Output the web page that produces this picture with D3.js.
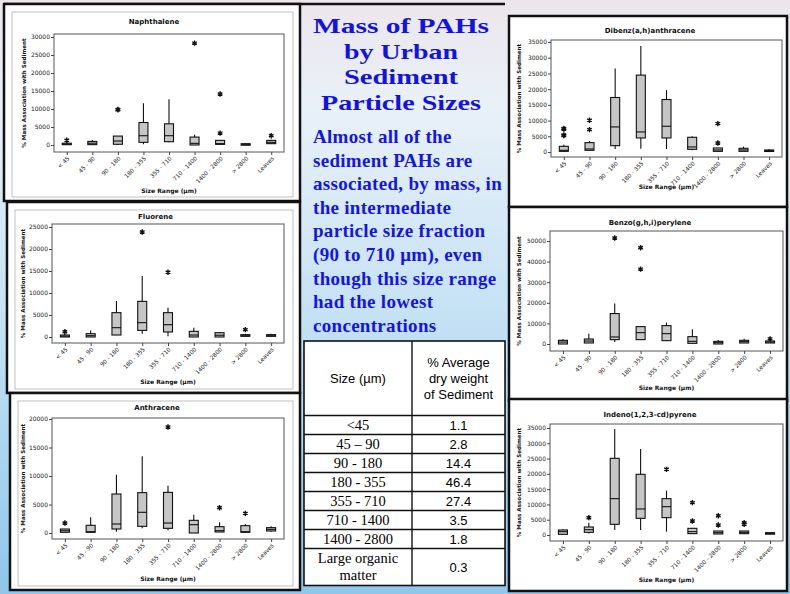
<!DOCTYPE html>
<html>
<head>
<meta charset="utf-8">
<script src="https://cdn.jsdelivr.net/npm/d3@7"></script>
<style>
  body { margin: 0; }
  svg { display: block; }
</style>
</head>
<body>
<div id="chart"></div>
<script>
// size classes on the x axis of every panel
const categories = ["< 45", "45 - 90", "90 - 180", "180 - 355", "355 - 710", "710 - 1400", "1400 - 2800", "> 2800", "Leaves"];

// boxes are [min, q1, median, q3, max], outliers are [category index, value]
const naphthaleneBoxes = [[0, 100, 250, 500, 800], [0, 100, 500, 1000, 1400], [0, 200, 1100, 2480, 2480], [200, 740, 2580, 6250, 11600], [740, 920, 2580, 5890, 12700], [0, 0, 460, 2200, 2850], [150, 180, 370, 1290, 1400], [0, 0, 200, 350, 500], [370, 370, 740, 1290, 1470]];
const naphthaleneOutliers = [[0, 1300], [2, 9750], [2, 9900], [5, 28300], [6, 14170], [6, 3300], [8, 2580]];
const naphthaleneTicks = [0, 5000, 10000, 15000, 20000, 25000, 30000];

const fluoreneBoxes = [[0, 0, 200, 450, 750], [0, 0, 300, 760, 1500], [450, 450, 2120, 5530, 8180], [760, 1500, 3260, 8100, 13860], [150, 1140, 2800, 5530, 6670], [0, 0, 450, 1290, 2120], [0, 0, 400, 980, 1140], [150, 150, 400, 530, 760], [0, 150, 400, 530, 760]];
const fluoreneOutliers = [[0, 1200], [3, 23860], [4, 14700], [7, 1670]];
const fluoreneTicks = [0, 5000, 10000, 15000, 20000, 25000];

const anthraceneBoxes = [[120, 120, 400, 700, 700], [120, 120, 230, 1350, 2750], [230, 700, 1580, 6840, 10230], [820, 1170, 3630, 7080, 13450], [470, 820, 1750, 7130, 8300], [0, 0, 1460, 2220, 3220], [175, 175, 410, 1110, 1870], [120, 120, 230, 1290, 1580], [230, 350, 640, 940, 1170]];
const anthraceneOutliers = [[0, 1750], [4, 18600], [6, 4440], [7, 3450]];
const anthraceneTicks = [0, 5000, 10000, 15000, 20000];

const dibenzBoxes = [[210, 210, 530, 1810, 2340], [530, 530, 960, 2980, 3510], [960, 2020, 7980, 17340, 26600], [1060, 4470, 6380, 24470, 33720], [960, 4470, 8190, 16700, 19680], [530, 850, 1600, 4680, 5000], [210, 210, 640, 1280, 1280], [210, 210, 640, 1170, 1700], [210, 210, 430, 640, 960]];
const dibenzOutliers = [[0, 7300], [0, 7500], [0, 5200], [0, 5400], [1, 10100], [1, 7130], [6, 9040], [6, 2870]];
const dibenzTicks = [0, 5000, 10000, 15000, 20000, 25000, 30000, 35000];

const benzoBoxes = [[0, 0, 970, 1790, 2430], [490, 490, 1460, 2430, 5030], [970, 2110, 3410, 14770, 19640], [2110, 2110, 5520, 8440, 8440], [1620, 1620, 5030, 8930, 10390], [320, 320, 1300, 3570, 7140], [0, 0, 650, 1300, 1950], [490, 490, 1140, 1790, 2600], [490, 490, 970, 1460, 1950]];
const benzoOutliers = [[2, 51460], [3, 46750], [3, 36360], [8, 2500]];
const benzoTicks = [0, 10000, 20000, 30000, 40000, 50000];

const indenoBoxes = [[220, 220, 1090, 1640, 1850], [500, 870, 1740, 2620, 4030], [1640, 3490, 11890, 25080, 34680], [1640, 5450, 8510, 19850, 28140], [1090, 5670, 9270, 11890, 14500], [440, 440, 1090, 2180, 2400], [330, 330, 760, 1310, 1310], [440, 440, 870, 1310, 1310], [330, 330, 540, 760, 760]];
const indenoOutliers = [[1, 5670], [4, 21480], [5, 10580], [5, 4580], [6, 6320], [6, 3270], [7, 4030], [7, 3490]];
const indenoTicks = [0, 5000, 10000, 15000, 20000, 25000, 30000, 35000];

// table in the middle
const tableSizes = ["<45", "45 \u2013 90", "90 - 180", "180 - 355", "355 - 710", "710 - 1400", "1400 - 2800", "Large organic|matter"];
const tableWeights = ["1.1", "2.8", "14.4", "46.4", "27.4", "3.5", "1.8", "0.3"];

const titleLines = ["Mass of PAHs", "by Urban", "Sediment", "Particle Sizes"];
const titleWidths = [176, 114, 114, 160];
const bodyLines = ["Almost all of the", "sediment PAHs are", "associated, by mass, in", "the intermediate", "particle size fraction", "(90 to 710 \u03bcm), even", "though this size range", "had the lowest", "concentrations"];

const width = 790;
const height = 594;

const svg = d3.select("#chart").append("svg")
  .attr("width", width)
  .attr("height", height);

// slide background
const defs = svg.append("defs");
const bg = defs.append("linearGradient").attr("id", "bg").attr("x1", 0).attr("y1", 0).attr("x2", 0).attr("y2", 1);
bg.append("stop").attr("offset", "0").attr("stop-color", "#ece6ec");
bg.append("stop").attr("offset", "0.18").attr("stop-color", "#e9f1f8");
bg.append("stop").attr("offset", "0.55").attr("stop-color", "#c3e1f4");
bg.append("stop").attr("offset", "1").attr("stop-color", "#8fc6ea");
svg.append("rect").attr("width", width).attr("height", height).attr("fill", "url(#bg)");

const panels = [
  { title: "Naphthalene", boxes: naphthaleneBoxes, outliers: naphthaleneOutliers, ticks: naphthaleneTicks,
    frame: [4, 4, 300, 201], plot: [54, 34, 284, 152], zeroY: 145, topY: 37, titleY: 24, xlabY: 193, ylabX: 26, inner: true },
  { title: "Fluorene", boxes: fluoreneBoxes, outliers: fluoreneOutliers, ticks: fluoreneTicks,
    frame: [7, 202, 300, 393], plot: [52, 224, 284, 343], zeroY: 337, topY: 227, titleY: 219, xlabY: 384, ylabX: 25, inner: true },
  { title: "Anthracene", boxes: anthraceneBoxes, outliers: anthraceneOutliers, ticks: anthraceneTicks,
    frame: [10, 393, 300, 590], plot: [52, 418, 284, 539], zeroY: 533, topY: 419, titleY: 410, xlabY: 581, ylabX: 25, inner: true },
  { title: "Dibenz(a,h)anthracene", boxes: dibenzBoxes, outliers: dibenzOutliers, ticks: dibenzTicks,
    frame: [509, 16, 787, 207], plot: [551, 40, 782, 157], zeroY: 152, topY: 42, titleY: 33, xlabY: 189, ylabX: 521, inner: false },
  { title: "Benzo(g,h,i)perylene", boxes: benzoBoxes, outliers: benzoOutliers, ticks: benzoTicks,
    frame: [509, 207, 787, 401], plot: [550, 231, 783, 351], zeroY: 344, topY: 241, titleY: 225, xlabY: 390, ylabX: 521, inner: false },
  { title: "Indeno(1,2,3-cd)pyrene", boxes: indenoBoxes, outliers: indenoOutliers, ticks: indenoTicks,
    frame: [509, 399, 787, 591], plot: [550, 424, 783, 541], zeroY: 535, topY: 428, titleY: 417, xlabY: 582, ylabX: 521, inner: false }
];

const font = "'DejaVu Sans', Verdana, sans-serif";

// top rule over the left column and the title
svg.append("line").attr("x1", 4).attr("x2", 505).attr("y1", 4).attr("y2", 4)
  .attr("stroke", "#111").attr("stroke-width", 2.5);

panels.forEach(function (p) {
  const g = svg.append("g");
  const [fx0, fy0, fx1, fy1] = p.frame;
  const [px0, py0, px1, py1] = p.plot;

  g.append("rect")
    .attr("x", fx0).attr("y", fy0).attr("width", fx1 - fx0).attr("height", fy1 - fy0)
    .attr("fill", "#fff").attr("stroke", "#111").attr("stroke-width", 2.5);
  if (p.inner) {
    g.append("rect")
      .attr("x", fx0 + 8).attr("y", fy0 + 8).attr("width", fx1 - fx0 - 15).attr("height", fy1 - fy0 - 12)
      .attr("fill", "none").attr("stroke", "#b0b0b0").attr("stroke-width", 0.8);
  }

  let x = d3.scalePoint().domain(categories).range([px0, px1]).padding(0.5);
  let y = d3.scaleLinear().domain([0, d3.max(p.ticks)]).range([p.zeroY, p.topY]);

  g.append("rect")
    .attr("x", px0).attr("y", py0).attr("width", px1 - px0).attr("height", py1 - py0)
    .attr("fill", "#fff").attr("stroke", "#555").attr("stroke-width", 1);

  let yAxis = d3.axisLeft(y).tickValues(p.ticks).tickSize(3).tickFormat(d3.format("d"));
  let yg = g.append("g").attr("transform", "translate(" + px0 + ",0)").call(yAxis);
  yg.select(".domain").remove();
  yg.selectAll("text").attr("font-size", 6).attr("font-family", font).attr("fill", "#222").attr("x", -4);
  yg.selectAll("line").attr("stroke", "#444");

  let xAxis = d3.axisBottom(x).tickSize(3);
  let xg = g.append("g").attr("transform", "translate(0," + py1 + ")").call(xAxis);
  xg.select(".domain").remove();
  xg.selectAll("line").attr("stroke", "#444");
  xg.selectAll("text")
    .attr("font-size", 5.8).attr("font-family", font).attr("fill", "#1a1a1a")
    .attr("text-anchor", "end")
    .attr("transform", "rotate(-45)")
    .attr("x", -3).attr("y", 5).attr("dy", "0.3em");

  const bw = 9;
  const boxes = g.selectAll(".box").data(p.boxes).enter().append("g").attr("class", "box");
  boxes.append("line")
    .attr("x1", (d, i) => x(categories[i])).attr("x2", (d, i) => x(categories[i]))
    .attr("y1", d => y(d[0])).attr("y2", d => y(d[4]))
    .attr("stroke", "#111").attr("stroke-width", 1.1);
  boxes.append("rect")
    .attr("x", (d, i) => x(categories[i]) - bw / 2).attr("width", bw)
    .attr("y", d => y(d[3])).attr("height", d => Math.max(1.5, y(d[1]) - y(d[3])))
    .attr("fill", "#c6c6c6").attr("stroke", "#111").attr("stroke-width", 1.1);
  boxes.append("line")
    .attr("x1", (d, i) => x(categories[i]) - bw / 2).attr("x2", (d, i) => x(categories[i]) + bw / 2)
    .attr("y1", d => y(d[2])).attr("y2", d => y(d[2]))
    .attr("stroke", "#111").attr("stroke-width", 1.1);

  g.selectAll(".outlier").data(p.outliers).enter().append("path")
    .attr("class", "outlier")
    .attr("d", d3.symbol(d3.symbolAsterisk, 20))
    .attr("transform", d => "translate(" + x(categories[d[0]]) + "," + y(d[1]) + ")")
    .attr("fill", "none").attr("stroke", "#111").attr("stroke-width", 1.4);

  g.append("text")
    .attr("x", (fx0 + fx1) / 2 + 2).attr("y", p.titleY)
    .attr("text-anchor", "middle").attr("font-family", font)
    .attr("font-size", 7).attr("font-weight", "bold").attr("fill", "#111")
    .text(p.title);

  g.append("text")
    .attr("x", (px0 + px1) / 2).attr("y", p.xlabY)
    .attr("text-anchor", "middle").attr("font-family", font)
    .attr("font-size", 6).attr("font-weight", "bold").attr("fill", "#111")
    .text("Size Range (\u00b5m)");

  g.append("text")
    .attr("transform", "translate(" + p.ylabX + "," + (py0 + py1) / 2 + ") rotate(-90)")
    .attr("text-anchor", "middle").attr("font-family", font)
    .attr("font-size", 5.6).attr("font-weight", "bold").attr("fill", "#111")
    .text("% Mass Association with Sediment");
});

// middle column text
const serif = "'Liberation Serif', 'Times New Roman', serif";
svg.append("g").selectAll("text").data(titleLines).enter().append("text")
  .attr("x", (d, i) => 401 - titleWidths[i] / 2).attr("y", (d, i) => 33 + i * 25.7)
  .attr("font-family", serif)
  .attr("font-size", 22).attr("font-weight", "bold").attr("fill", "#1212e2")
  .attr("textLength", (d, i) => titleWidths[i]).attr("lengthAdjust", "spacingAndGlyphs")
  .text(d => d);

svg.append("g").selectAll("text").data(bodyLines).enter().append("text")
  .attr("x", 313).attr("y", (d, i) => 143 + i * 23.6)
  .attr("font-family", serif)
  .attr("font-size", 19).attr("font-weight", "bold").attr("fill", "#1414e6")
  .attr("letter-spacing", 0.3)
  .text(d => d);

// table
const tX0 = 304, tX1 = 505, tDiv = 412, tTop = 341, tHead = 415.5, rowH = 19;
const tBottom = tHead + rowH * (tableSizes.length - 1) + 37;
const tg = svg.append("g");
tg.append("rect").attr("x", tX0).attr("y", tTop).attr("width", tX1 - tX0).attr("height", tBottom - tTop)
  .attr("fill", "#fff").attr("stroke", "#111").attr("stroke-width", 1.6);
tg.append("line").attr("x1", tDiv).attr("x2", tDiv).attr("y1", tTop).attr("y2", tBottom)
  .attr("stroke", "#111").attr("stroke-width", 1.4);
d3.range(tableSizes.length).forEach(function (i) {
  let yl = tHead + i * rowH;
  tg.append("line").attr("x1", tX0).attr("x2", tX1).attr("y1", yl).attr("y2", yl)
    .attr("stroke", "#111").attr("stroke-width", 1.4);
});
const sans = "'Liberation Sans', Arial, sans-serif";
tg.append("text").attr("x", (tX0 + tDiv) / 2).attr("y", 383)
  .attr("text-anchor", "middle").attr("font-family", sans).attr("font-size", 13).text("Size (\u00b5m)");
["% Average", "dry weight", "of Sediment"].forEach(function (t, i) {
  tg.append("text").attr("x", (tDiv + tX1) / 2).attr("y", 367 + i * 16)
    .attr("text-anchor", "middle").attr("font-family", sans).attr("font-size", 13).text(t);
});
tableSizes.forEach(function (s, i) {
  let yc = tHead + i * rowH + rowH / 2;
  let parts = s.split("|");
  if (parts.length > 1) {
    parts.forEach(function (t, j) {
      tg.append("text").attr("x", (tX0 + tDiv) / 2).attr("y", yc + 5 + j * 17)
        .attr("text-anchor", "middle").attr("font-family", serif).attr("font-size", 14.5).text(t);
    });
  } else {
    tg.append("text").attr("x", (tX0 + tDiv) / 2).attr("y", yc + 5)
      .attr("text-anchor", "middle").attr("font-family", serif).attr("font-size", 14.5).text(s);
  }
  let yv = parts.length > 1 ? yc + 13.5 : yc + 5;
  tg.append("text").attr("x", (tDiv + tX1) / 2).attr("y", yv)
    .attr("text-anchor", "middle").attr("font-family", sans).attr("font-size", 13).text(tableWeights[i]);
});
</script>
</body>
</html>
